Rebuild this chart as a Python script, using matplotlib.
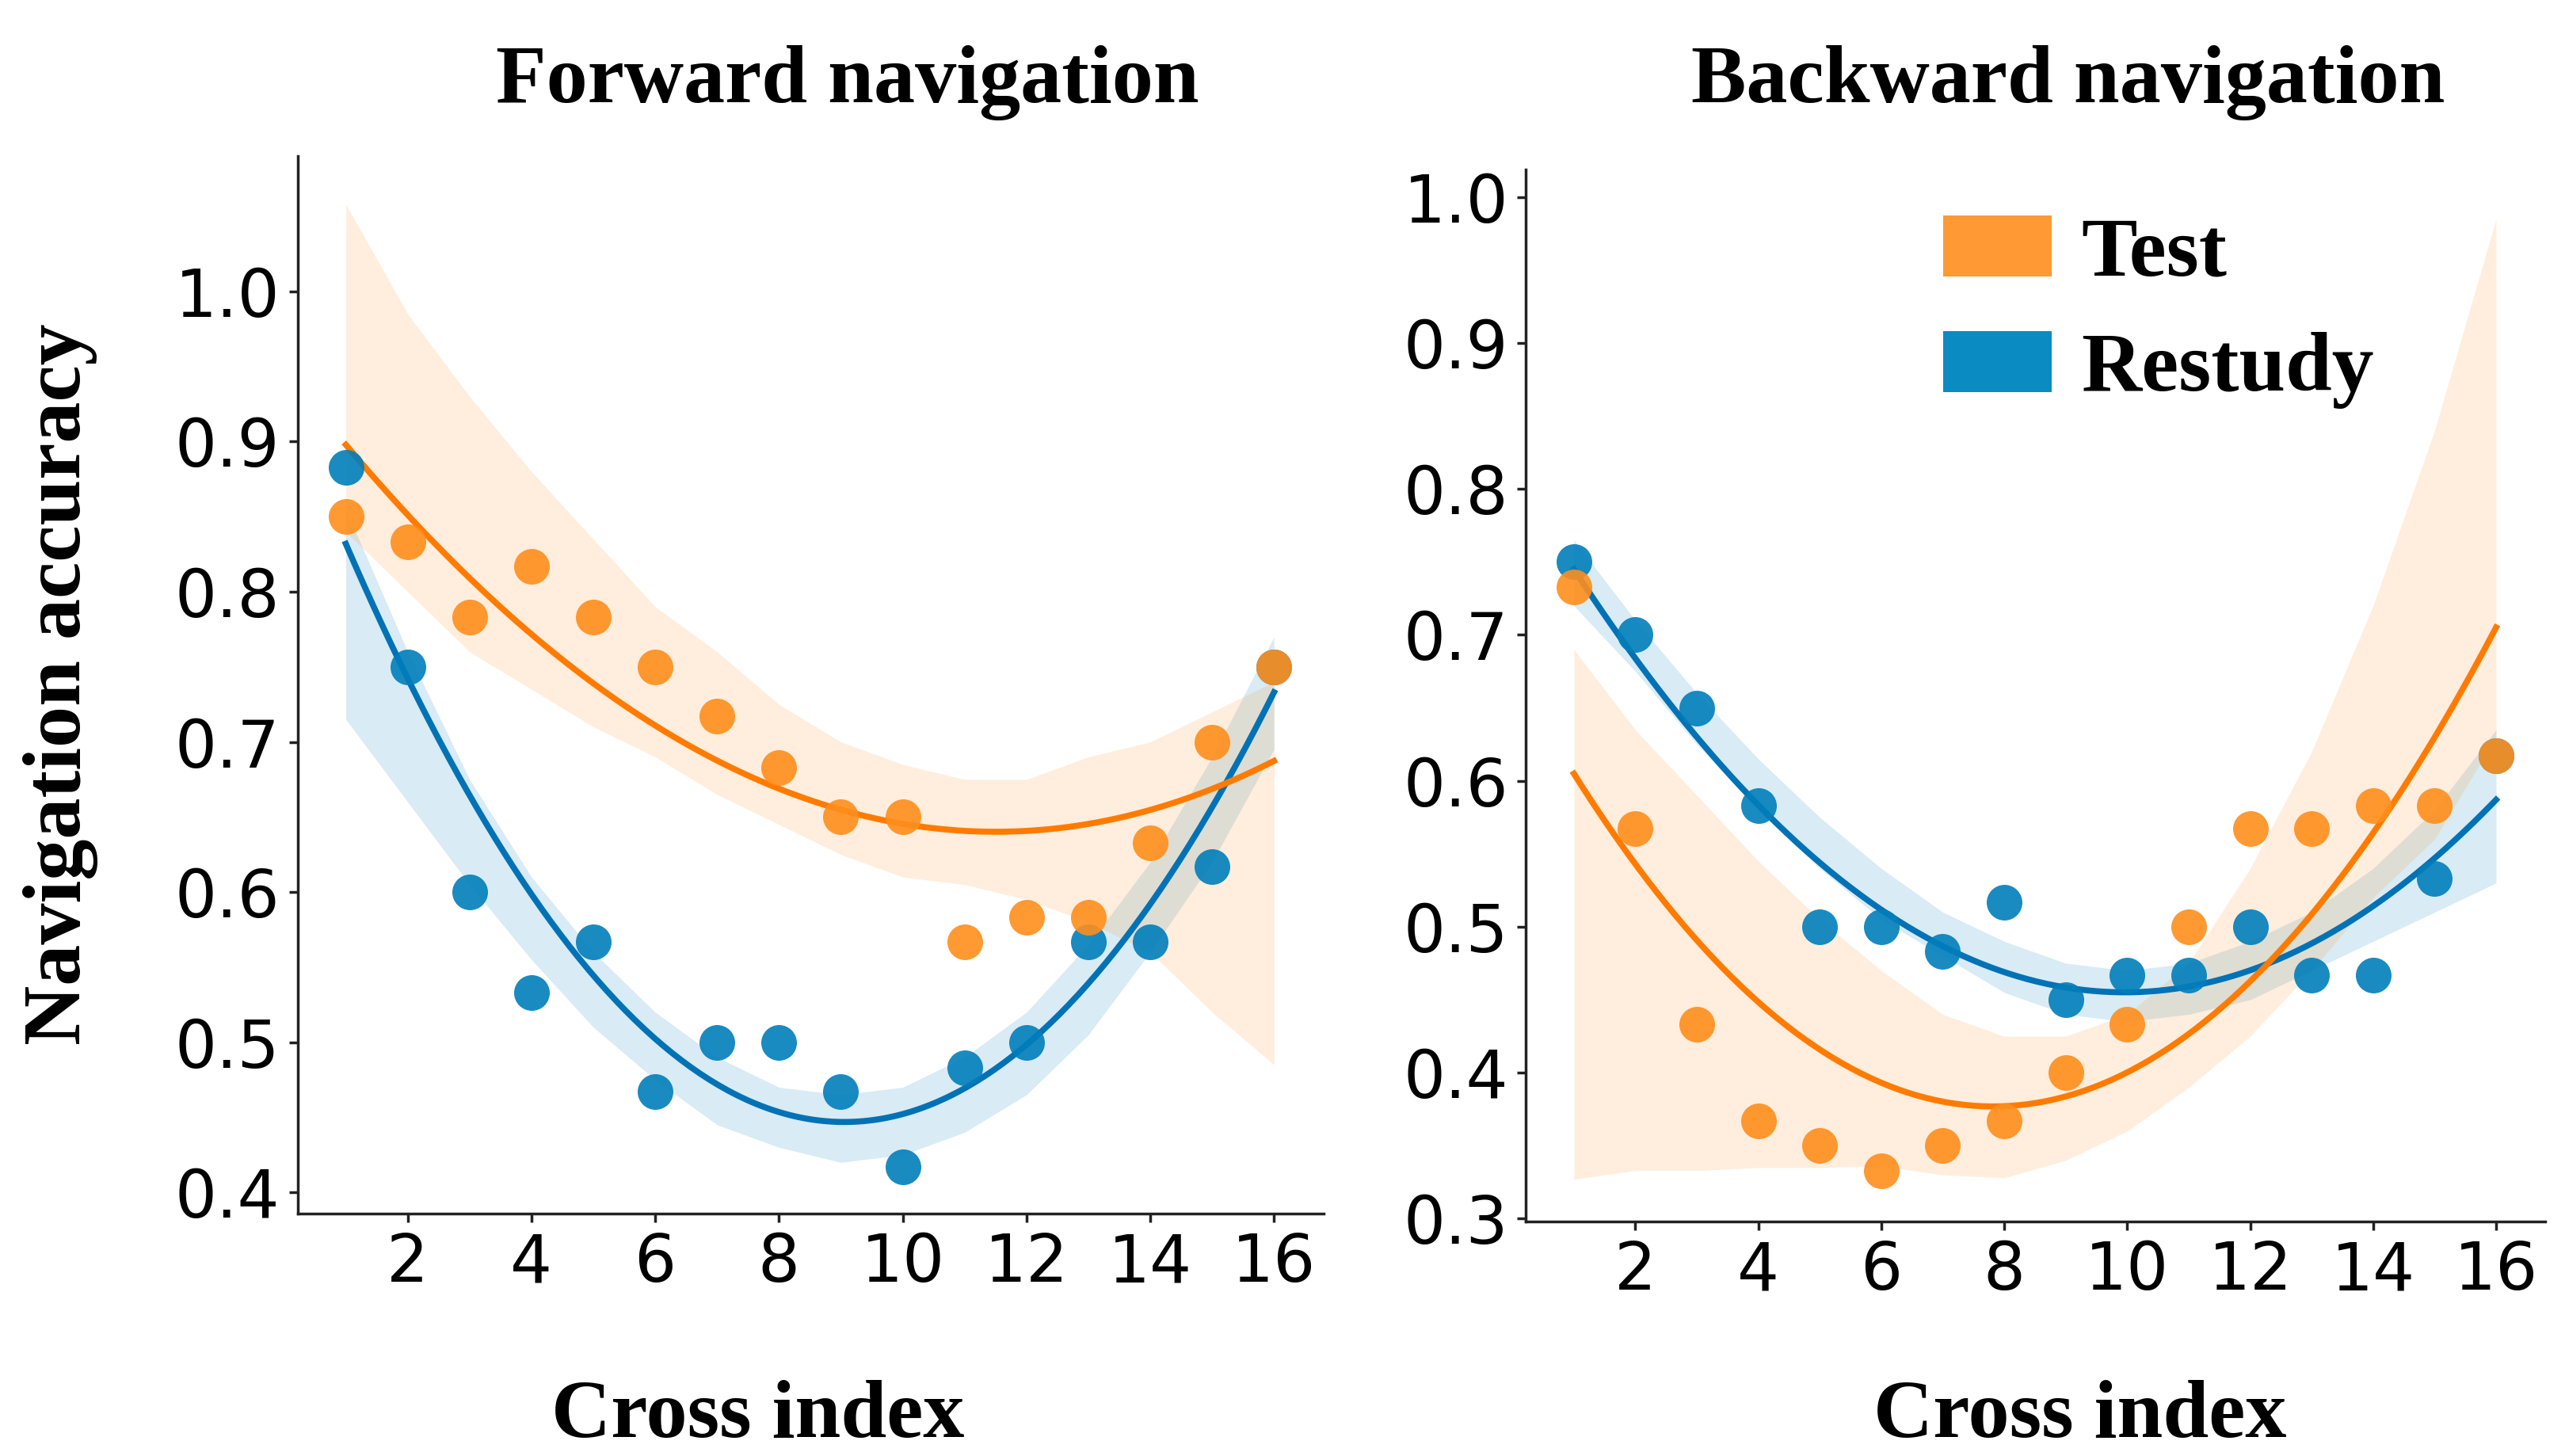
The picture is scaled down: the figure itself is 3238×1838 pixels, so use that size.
import numpy as np
import matplotlib
matplotlib.use("Agg")
import matplotlib.pyplot as plt
from matplotlib.patches import Patch


# cross index 1..16
cross = np.arange(1, 17)

# forward navigation: mean accuracy per cross
fwd_test = [0.850, 0.833, 0.783, 0.817, 0.783, 0.750, 0.717, 0.683,
            0.650, 0.650, 0.567, 0.583, 0.583, 0.633, 0.700, 0.750]
fwd_restudy = [0.883, 0.750, 0.600, 0.533, 0.567, 0.467, 0.500, 0.500,
               0.467, 0.417, 0.483, 0.500, 0.567, 0.567, 0.617, 0.750]

# backward navigation
bwd_test = [0.733, 0.567, 0.433, 0.367, 0.350, 0.333, 0.350, 0.367,
            0.400, 0.433, 0.500, 0.567, 0.567, 0.583, 0.583, 0.617]
bwd_restudy = [0.750, 0.700, 0.650, 0.583, 0.500, 0.500, 0.483, 0.517,
               0.450, 0.467, 0.467, 0.500, 0.467, 0.467, 0.533, 0.617]

# quadratic fit lines (at each cross)
fwd_test_fit = [0.898, 0.851, 0.809, 0.772, 0.739, 0.711, 0.687, 0.669,
                0.655, 0.645, 0.641, 0.641, 0.645, 0.655, 0.669, 0.687]
fwd_restudy_fit = [0.832, 0.742, 0.664, 0.599, 0.545, 0.502, 0.472, 0.454,
                   0.447, 0.452, 0.469, 0.498, 0.539, 0.592, 0.657, 0.733]
bwd_test_fit = [0.605, 0.543, 0.491, 0.448, 0.416, 0.393, 0.380, 0.377,
                0.384, 0.400, 0.427, 0.463, 0.508, 0.564, 0.630, 0.705]
bwd_restudy_fit = [0.745, 0.684, 0.630, 0.583, 0.544, 0.512, 0.487, 0.469,
                   0.458, 0.455, 0.459, 0.470, 0.489, 0.514, 0.547, 0.587]

# confidence bands (lower / upper)
fwd_test_lo = [0.840, 0.800, 0.760, 0.735, 0.710, 0.690, 0.665, 0.645,
               0.625, 0.610, 0.605, 0.595, 0.580, 0.560, 0.520, 0.485]
fwd_test_hi = [1.058, 0.985, 0.930, 0.880, 0.835, 0.790, 0.760, 0.725,
               0.700, 0.685, 0.675, 0.675, 0.690, 0.700, 0.720, 0.740]
fwd_restudy_lo = [0.715, 0.660, 0.605, 0.555, 0.510, 0.475, 0.445, 0.430,
                  0.420, 0.425, 0.440, 0.465, 0.505, 0.560, 0.620, 0.695]
fwd_restudy_hi = [0.855, 0.760, 0.675, 0.610, 0.560, 0.520, 0.490, 0.470,
                  0.465, 0.470, 0.490, 0.520, 0.565, 0.620, 0.690, 0.770]
bwd_test_lo = [0.327, 0.333, 0.333, 0.335, 0.335, 0.336, 0.330, 0.328,
               0.340, 0.360, 0.390, 0.425, 0.470, 0.520, 0.560, 0.630]
bwd_test_hi = [0.690, 0.635, 0.590, 0.545, 0.505, 0.470, 0.440, 0.425,
               0.425, 0.440, 0.475, 0.540, 0.620, 0.720, 0.840, 0.985]
bwd_restudy_lo = [0.720, 0.675, 0.625, 0.580, 0.540, 0.505, 0.480, 0.455,
                  0.440, 0.435, 0.440, 0.450, 0.470, 0.490, 0.510, 0.530]
bwd_restudy_hi = [0.765, 0.710, 0.660, 0.615, 0.575, 0.540, 0.510, 0.490,
                  0.475, 0.470, 0.475, 0.490, 0.510, 0.540, 0.580, 0.635]

# colours
TEST_DOT = '#ff8e1c'
TEST_LINE = '#ff7b00'
RESTUDY_DOT = '#007ebb'
RESTUDY_LINE = '#0072b5'

SERIF = 'Liberation Serif'


def draw_group(ax, y, fit, lo, hi, dot_color, line_color):
    # band
    ax.fill_between(cross, lo, hi, color=dot_color, alpha=0.15,
                    linewidth=0, zorder=1)
    # smooth the read fit values with a quadratic
    coef = np.polyfit(cross, fit, 2)
    xs = np.linspace(cross[0], cross[-1], 200)
    ax.plot(xs, np.polyval(coef, xs), color=line_color, lw=5.5, zorder=2)
    ax.scatter(cross, y, s=1050, color=dot_color, alpha=0.9,
               linewidths=0, zorder=3)


def style_axes(ax, ylim, yticks):
    ax.set_xlim(0.22, 16.8)
    ax.set_ylim(*ylim)
    ax.set_xticks(range(2, 17, 2))
    ax.set_yticks(yticks)
    ax.set_yticklabels([f'{t:.1f}' for t in yticks])
    for side in ['top', 'right']:
        ax.spines[side].set_visible(False)
    for side in ['left', 'bottom']:
        ax.spines[side].set_linewidth(2.5)
        ax.spines[side].set_color('#222222')
    ax.tick_params(axis='both', labelsize=60, length=8, width=2.5,
                   pad=8, color='#222222')


fig = plt.figure(figsize=(32.38, 18.38), dpi=100)

ax1 = fig.add_axes([0.116, 0.1666, 0.400, 0.7261])
ax2 = fig.add_axes([0.5949, 0.161, 0.3974, 0.7227])

# forward
draw_group(ax1, fwd_restudy, fwd_restudy_fit, fwd_restudy_lo, fwd_restudy_hi,
           RESTUDY_DOT, RESTUDY_LINE)
draw_group(ax1, fwd_test, fwd_test_fit, fwd_test_lo, fwd_test_hi,
           TEST_DOT, TEST_LINE)
style_axes(ax1, (0.386, 1.09), [0.4, 0.5, 0.6, 0.7, 0.8, 0.9, 1.0])

# backward
draw_group(ax2, bwd_restudy, bwd_restudy_fit, bwd_restudy_lo, bwd_restudy_hi,
           RESTUDY_DOT, RESTUDY_LINE)
draw_group(ax2, bwd_test, bwd_test_fit, bwd_test_lo, bwd_test_hi,
           TEST_DOT, TEST_LINE)
style_axes(ax2, (0.298, 1.019), [0.3, 0.4, 0.5, 0.6, 0.7, 0.8, 0.9, 1.0])

# titles and labels
label_kw = dict(family=SERIF, weight='bold', fontsize=75)
fig.text(0.3305, 0.930, 'Forward navigation', ha='center', va='baseline', **label_kw)
fig.text(0.8064, 0.930, 'Backward navigation', ha='center', va='baseline', **label_kw)
fig.text(0.2955, 0.013, 'Cross index', ha='center', va='baseline', **label_kw)
fig.text(0.8109, 0.013, 'Cross index', ha='center', va='baseline', **label_kw)
fig.text(0.0237, 0.530, 'Navigation accuracy', rotation=90,
         ha='center', va='center', **label_kw)

# legend
handles = [Patch(facecolor='#ff9933', edgecolor='none', label='Test'),
           Patch(facecolor='#0a8bc1', edgecolor='none', label='Restudy')]
fig.legend(handles=handles, loc='upper left', bbox_to_anchor=(0.7575, 0.852),
           frameon=False, prop=dict(family=SERIF, weight='bold', size=76),
           handlelength=1.3, handleheight=0.75, handletextpad=0.35,
           labelspacing=0.45, borderpad=0, borderaxespad=0)

fig.savefig('out.png', dpi=100)
